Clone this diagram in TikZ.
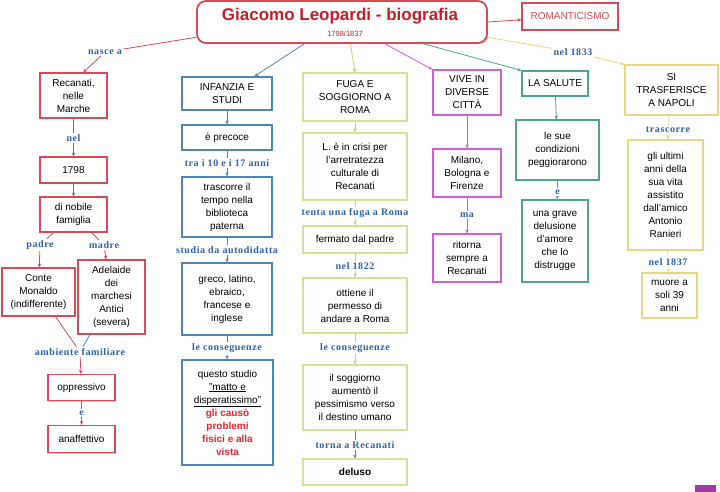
\documentclass[tikz,border=0pt]{standalone}
\usepackage{fontspec}
\setmainfont{Liberation Sans}
\newfontfamily\labfont{Liberation Serif}[LetterSpace=6]
\usetikzlibrary{arrows.meta,shadows}
\definecolor{cred}{HTML}{D64B55}
\definecolor{ctred}{HTML}{C41E2A}
\definecolor{cblue}{HTML}{4F86B5}
\definecolor{cgreen}{HTML}{D3E294}
\definecolor{cgreenl}{HTML}{C5D576}
\definecolor{cmag}{HTML}{D45DD2}
\definecolor{cteal}{HTML}{4DA687}
\definecolor{cyel}{HTML}{E8D886}
\definecolor{clab}{HTML}{2F62AE}
\definecolor{cbright}{HTML}{E3262B}
\definecolor{cpurp}{HTML}{A03AA8}
\tikzset{
 bx/.style={draw=#1, line width=1.1pt, fill=white, align=center, inner sep=1pt,
   font=\fontsize{10}{13}\selectfont,
   drop shadow={shadow xshift=1.2pt,shadow yshift=-1.2pt,fill=#1!40,opacity=1}},
 rb/.style={bx=cred}, bb/.style={bx=cblue}, gb/.style={bx=cgreen},
 mb/.style={bx=cmag}, tb/.style={bx=cteal}, yb/.style={bx=cyel},
 lab/.style={font=\labfont\bfseries\fontsize{10}{11}\selectfont, text=clab, inner sep=1.5pt},
 ln/.style={draw=#1, line width=0.8pt},
 arw/.style={draw=#1, line width=0.8pt, -{Stealth[length=4pt,width=3.5pt]}},
}
\begin{document}
\begin{tikzpicture}[x=1pt,y=-1pt]
\useasboundingbox (0,0) rectangle (720,492);
\fill[white] (0,0) rectangle (720,492);

% title
\node[draw=cred, line width=1.8pt, rounded corners=9pt, fill=white, minimum width=290, minimum height=42,
  drop shadow={shadow xshift=1.2pt,shadow yshift=-1.2pt,fill=cred!35,opacity=1}] (tit) at (342,22) {};
\node[font=\bfseries\fontsize{17}{20}\selectfont, text=ctred] (ttl) at (340,16) {Giacomo Leopardi - biografia};
\node[font=\fontsize{7.5}{9}\selectfont, text=ctred, inner sep=0pt] (tyr) at (345,34) {1798/1837};
\node[rb, minimum width=96, minimum height=27, text=cred, font=\fontsize{10}{11}\selectfont] (rom) at (570,16.5) {ROMANTICISMO};

% red column
\node[lab] (lnasce) at (105,52) {nasce a};
\node[rb, minimum width=67, minimum height=45] (rec) at (73.5,95.5) {Recanati,\\nelle\\Marche};
\node[lab] (lnel) at (73.5,138) {nel};
\node[rb, minimum width=67, minimum height=26] (y98) at (73.5,170) {1798};
\node[rb, minimum width=67, minimum height=35] (nob) at (73.5,214.5) {di nobile\\famiglia};
\node[lab] (lpad) at (40,245) {padre};
\node[lab] (lmad) at (104,245) {madre};
\node[rb, minimum width=73, minimum height=48] (mon) at (38.5,292) {Conte\\Monaldo\\(indifferente)};
\node[rb, minimum width=67, minimum height=74] (ade) at (111.5,297) {Adelaide\\dei\\marchesi\\Antici\\(severa)};
\node[lab] (lamb) at (80,352) {ambiente familiare};
\node[rb, minimum width=67, minimum height=26] (opp) at (81.5,387.5) {oppressivo};
\node[lab] (le1) at (81.5,413) {e};
\node[rb, minimum width=67, minimum height=27] (ana) at (81.5,439) {anaffettivo};

% blue column
\node[bb, minimum width=90, minimum height=33] (inf) at (227,93.5) {INFANZIA E\\STUDI};
\node[bb, minimum width=90, minimum height=25] (pre) at (227,137.5) {è precoce};
\node[lab] (ltra) at (227,163) {tra i 10 e i 17 anni};
\node[bb, minimum width=90, minimum height=60] (tra) at (227,207) {trascorre il\\tempo nella\\biblioteca\\paterna};
\node[lab] (lstu) at (227,250) {studia da autodidatta};
\node[bb, minimum width=90, minimum height=72] (gre) at (227,299) {greco, latino,\\ebraico,\\francese e\\inglese};
\node[lab] (lcon1) at (227,348) {le conseguenze};
\node[bb, minimum width=91, minimum height=105] (que) at (227.5,412.5) {questo studio\\\underline{"matto e}\\\underline{disperatissimo"}\\\textcolor{cbright}{\bfseries gli causò}\\\textcolor{cbright}{\bfseries problemi}\\\textcolor{cbright}{\bfseries fisici e alla}\\\textcolor{cbright}{\bfseries vista}};

% fuga column
\node[gb, minimum width=104, minimum height=48] (fug) at (355,97) {FUGA E\\SOGGIORNO A\\ROMA};
\node[gb, minimum width=104, minimum height=67] (cri) at (355,166.5) {L. è in crisi per\\l'arretratezza\\culturale di\\Recanati};
\node[lab] (lten) at (355,213) {tenta una fuga a Roma};
\node[gb, minimum width=104, minimum height=27] (fer) at (355,239.5) {fermato dal padre};
\node[lab] (l1822) at (355,266) {nel 1822};
\node[gb, minimum width=104, minimum height=55] (ott) at (355,305.5) {ottiene il\\permesso di\\andare a Roma};
\node[lab] (lcon2) at (355,348) {le conseguenze};
\node[gb, minimum width=104, minimum height=65] (sog) at (355,397.5) {il soggiorno\\aumentò il\\pessimismo verso\\il destino umano};
\node[lab] (ltor) at (355,445) {torna a Recanati};
\node[gb, minimum width=104, minimum height=26] (del) at (355,472) {\bfseries deluso};

% magenta column
\node[mb, minimum width=68, minimum height=45] (viv) at (467,92.5) {VIVE IN\\DIVERSE\\CITTÀ};
\node[mb, minimum width=68, minimum height=48] (mil) at (467,173) {Milano,\\Bologna e\\Firenze};
\node[lab] (lma) at (467,215) {ma};
\node[mb, minimum width=68, minimum height=48] (rit) at (467,258) {ritorna\\sempre a\\Recanati};

% teal column
\node[tb, minimum width=66, minimum height=25] (sal) at (555,83.5) {LA SALUTE};
\node[tb, minimum width=83, minimum height=60] (con) at (557.5,150) {le sue\\condizioni\\peggiorarono};
\node[lab] (le2) at (557.5,192) {e};
\node[tb, minimum width=66, minimum height=82] (gra) at (555,241) {una grave\\delusione\\d'amore\\che lo\\distrugge};

% yellow column
\node[lab] (l1833) at (573,52) {nel 1833};
\node[yb, minimum width=93, minimum height=50] (nap) at (671.5,90) {SI\\TRASFERISCE\\A NAPOLI};
\node[lab] (ltrs) at (668,130) {trascorre};
\node[yb, minimum width=75, minimum height=110] (ult) at (665.5,195) {gli ultimi\\anni della\\sua vita\\assistito\\dall'amico\\Antonio\\Ranieri};
\node[lab] (l1837) at (668,262) {nel 1837};
\node[yb, minimum width=55, minimum height=45] (mor) at (669.5,295.5) {muore a\\soli 39\\anni};

% connectors from title
\draw[ln=cred] (tit.186) -- (lnasce);
\draw[arw=cred] (lnasce) -- (rec.67);
\draw[arw=cred] (tit.east) -- (rom);
\draw[arw=cblue] (tit.210) -- (inf.32);
\draw[arw=cgreenl] (tit.291) -- (fug.north);
\draw[arw=cmag] (tit.333) -- (viv.north west);
\draw[arw=cteal] (tit.345) -- (sal.north west);
\draw[ln=cyel] (tit.354) -- (l1833);
\draw[arw=cyel] (l1833) -- (nap.north west);

% red chain
\draw[ln=cred] (rec) -- (lnel);
\draw[arw=cred] (lnel) -- (y98);
\draw[arw=cred] (y98) -- (nob);
\draw[ln=cred] (nob) -- (lpad);
\draw[arw=cred] (lpad) -- (mon);
\draw[ln=cred] (nob) -- (lmad);
\draw[arw=cred] (lmad) -- (ade);
\draw[ln=cred] (mon) -- (lamb);
\draw[ln=cblue] (ade) -- (lamb);
\draw[arw=cred] (lamb) -- (opp);
\draw[ln=cred] (opp) -- (le1);
\draw[arw=cred] (le1) -- (ana);

% blue chain
\draw[arw=cblue] (inf) -- (pre);
\draw[ln=cblue] (pre) -- (ltra);
\draw[arw=cblue] (ltra) -- (tra);
\draw[ln=cblue] (tra) -- (lstu);
\draw[arw=cblue] (lstu) -- (gre);
\draw[ln=cblue] (gre) -- (lcon1);
\draw[arw=cblue] (lcon1) -- (que);

% fuga chain
\draw[arw=cgreenl] (fug) -- (cri);
\draw[ln=cgreenl] (cri) -- (lten);
\draw[arw=cgreenl] (lten) -- (fer);
\draw[ln=cgreenl] (fer) -- (l1822);
\draw[arw=cgreenl] (l1822) -- (ott);
\draw[ln=cgreenl] (ott) -- (lcon2);
\draw[arw=cgreenl] (lcon2) -- (sog);
\draw[ln=cblue] (sog) -- (ltor);
\draw[arw=cblue] (ltor) -- (del);

% magenta chain
\draw[arw=cmag] (viv) -- (mil);
\draw[ln=cmag] (mil) -- (lma);
\draw[arw=cmag] (lma) -- (rit);

% teal chain
\draw[arw=cteal] (sal) -- (con);
\draw[ln=cteal] (con) -- (le2);
\draw[arw=cteal] (le2) -- (gra);

% yellow chain
\draw[ln=cyel] (nap) -- (ltrs);
\draw[arw=cyel] (ltrs) -- (ult);
\draw[ln=cyel] (ult) -- (l1837);
\draw[arw=cyel] (l1837) -- (mor);

% corner mark
\fill[cpurp] (695,485) rectangle (716,492);
\end{tikzpicture}
\end{document}
